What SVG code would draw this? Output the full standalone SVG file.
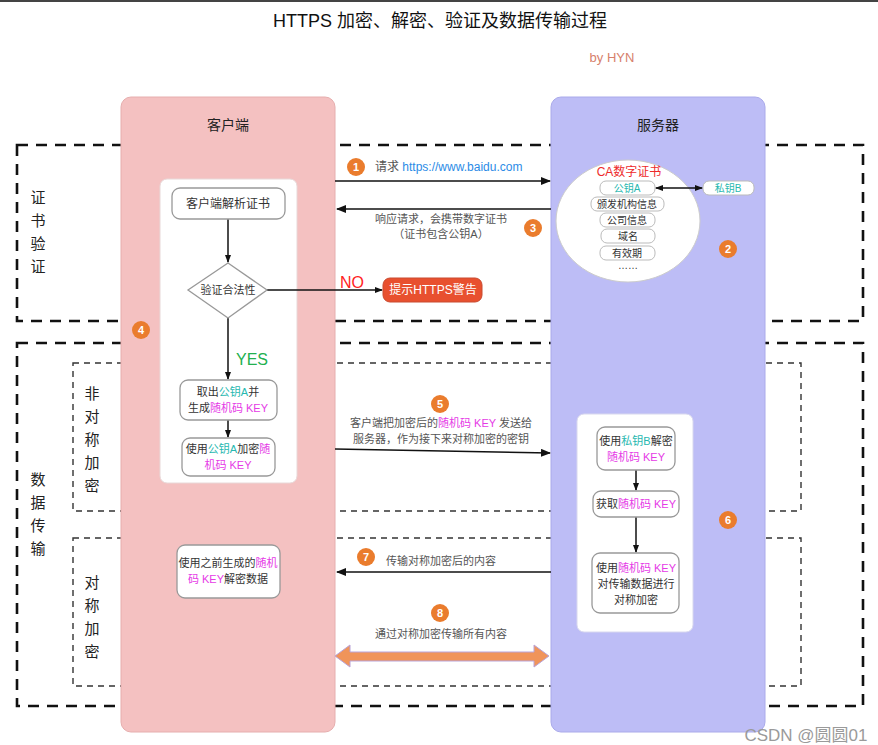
<svg xmlns="http://www.w3.org/2000/svg" width="878" height="745" viewBox="0 0 878 745">
<style>
text{font-family:"Liberation Sans","Noto Sans CJK SC",sans-serif;}
.t{font-size:11px;fill:#333;text-anchor:middle;}
.g{font-size:11px;fill:#555;text-anchor:middle;}
.side{font-size:15px;fill:#222;text-anchor:middle;}
.teal{fill:#27b8b0;}
.mag{fill:#e53ae6;}
.node{fill:#fff;stroke:#999;stroke-width:1.3;}
.pill{fill:#fff;stroke:#bbb;stroke-width:1;}
.bigdash{fill:none;stroke:#111;stroke-width:2.6;stroke-dasharray:11 8;}
.smalldash{fill:none;stroke:#333;stroke-width:1.4;stroke-dasharray:6 5;}
.num circle{fill:#ea7c2d;}
.num text{font-size:11px;fill:#fff;text-anchor:middle;font-weight:bold;}
.ln{stroke:#111;stroke-width:1.5;fill:none;}
</style>
<defs>
<marker id="ah" markerUnits="userSpaceOnUse" markerWidth="10" markerHeight="8" refX="9" refY="4" orient="auto">
<path d="M0,0 L10,4 L0,8 Z" fill="#111"/>
</marker>
<marker id="as" markerUnits="userSpaceOnUse" markerWidth="8" markerHeight="6" refX="7" refY="3" orient="auto-start-reverse">
<path d="M0,0 L8,3 L0,6 Z" fill="#111"/>
</marker>
</defs>
<rect x="0" y="0" width="878" height="745" fill="#fff"/>
<rect x="0" y="0" width="878" height="2" fill="#444"/>
<text x="440" y="27" style="font-size:18px;fill:#111;text-anchor:middle;">HTTPS 加密、解密、验证及数据传输过程</text>
<text x="612" y="62" style="font-size:13px;fill:#d77f6c;text-anchor:middle;">by HYN</text>

<g id="sections">
<rect class="bigdash" x="17" y="145" width="846" height="176"/>
<rect class="bigdash" x="17" y="343" width="846" height="363"/>
<rect class="smalldash" x="73" y="363" width="728" height="148"/>
<rect class="smalldash" x="73" y="538" width="728" height="148"/>
<text class="side" x="38" y="203">证</text>
<text class="side" x="38" y="226">书</text>
<text class="side" x="38" y="249">验</text>
<text class="side" x="38" y="272">证</text>
<text class="side" x="38" y="485">数</text>
<text class="side" x="38" y="508">据</text>
<text class="side" x="38" y="531">传</text>
<text class="side" x="38" y="554">输</text>
<text class="side" x="92" y="399">非</text>
<text class="side" x="92" y="422">对</text>
<text class="side" x="92" y="445">称</text>
<text class="side" x="92" y="468">加</text>
<text class="side" x="92" y="491">密</text>
<text class="side" x="92" y="588">对</text>
<text class="side" x="92" y="611">称</text>
<text class="side" x="92" y="634">加</text>
<text class="side" x="92" y="657">密</text>
</g>

<g id="client-lane">
<rect x="121" y="97" width="214" height="635" rx="10" fill="#f4c1c1" stroke="#e6aeae" stroke-width="1"/>
<text x="228" y="130" style="font-size:14px;fill:#222;text-anchor:middle;">客户端</text>
<rect x="160" y="179" width="137" height="304" rx="7" fill="#fff" stroke="#e8d8d8" stroke-width="1"/>
</g>
<g id="server-lane">
<rect x="551" y="97" width="214" height="635" rx="10" fill="#bdbdf6" stroke="#aaaaea" stroke-width="1"/>
<text x="658" y="130" style="font-size:14px;fill:#222;text-anchor:middle;">服务器</text>
<rect x="577" y="414" width="116" height="218" rx="7" fill="#fff" stroke="#d8d8ee" stroke-width="1"/>
</g>

<g id="ca-cert">
<ellipse cx="628" cy="221" rx="72" ry="61" fill="#fff" stroke="#ccc" stroke-width="1"/>
<text x="629" y="176" style="font-size:12px;fill:#ee2a2a;text-anchor:middle;">CA数字证书</text>
<rect class="pill" x="600" y="181" width="55" height="14" rx="6"/>
<text class="t teal" x="627" y="192" style="font-size:10px;">公钥A</text>
<rect class="pill" x="591" y="197" width="73" height="14" rx="6"/>
<text class="t" x="627" y="208" style="font-size:10px;">颁发机构信息</text>
<rect class="pill" x="600" y="213" width="55" height="14" rx="6"/>
<text class="t" x="627" y="224" style="font-size:10px;">公司信息</text>
<rect class="pill" x="601" y="229" width="54" height="14" rx="6"/>
<text class="t" x="628" y="240" style="font-size:10px;">域名</text>
<rect class="pill" x="600" y="246" width="55" height="14" rx="6"/>
<text class="t" x="627" y="257" style="font-size:10px;">有效期</text>
<text class="t" x="628" y="269" style="font-size:10px;">……</text>
</g>
<g id="private-key">
<rect class="pill" x="703" y="181" width="51" height="14" rx="6"/>
<text class="t teal" x="728" y="192" style="font-size:10px;">私钥B</text>
</g>

<g id="connectors">
<line class="ln" x1="335" y1="181" x2="550" y2="181" marker-end="url(#ah)"/>
<line class="ln" x1="551" y1="209" x2="337" y2="209" marker-end="url(#ah)"/>
<line class="ln" x1="656" y1="188" x2="702" y2="188" stroke-width="1.2" marker-start="url(#as)" marker-end="url(#as)"/>
<line class="ln" x1="228" y1="219" x2="228" y2="262" stroke-width="1.2" marker-end="url(#as)"/>
<line class="ln" x1="267" y1="290" x2="382" y2="290" stroke-width="1.2" marker-end="url(#as)"/>
<line class="ln" x1="228" y1="318" x2="228" y2="379" stroke-width="1.2" marker-end="url(#as)"/>
<line class="ln" x1="228" y1="420" x2="228" y2="437" stroke-width="1.2" marker-end="url(#as)"/>
<line class="ln" x1="335" y1="449" x2="550" y2="453" marker-end="url(#ah)"/>
<line class="ln" x1="636" y1="470" x2="636" y2="490" stroke-width="1.2" marker-end="url(#as)"/>
<line class="ln" x1="636" y1="517" x2="636" y2="552" stroke-width="1.2" marker-end="url(#as)"/>
<line class="ln" x1="551" y1="572" x2="337" y2="572" marker-end="url(#ah)"/>
<path d="M335,656 L350,645 L350,652 L534,652 L534,645 L549,656 L534,667 L534,661 L350,661 L350,667 Z" fill="#f0945a" stroke="#b9a3d8" stroke-width="1"/>
</g>

<g id="step1-label">
<g class="num"><circle cx="356" cy="167" r="9"/><text x="356" y="171">1</text></g>
<text x="375" y="171" style="font-size:12px;fill:#555;">请求 <tspan fill="#2b8be6">https://www.baidu.com</tspan></text>
</g>
<g id="step3-label">
<text class="g" x="441" y="223">响应请求，会携带数字证书</text>
<text class="g" x="441" y="238">（证书包含公钥A）</text>
<g class="num"><circle cx="533" cy="228" r="9"/><text x="533" y="232">3</text></g>
</g>

<g id="step2"><g class="num"><circle cx="728" cy="249" r="9"/><text x="728" y="253">2</text></g></g>
<g id="step4"><g class="num"><circle cx="141" cy="330" r="9"/><text x="141" y="334">4</text></g></g>

<g id="parse-cert">
<rect class="node" x="172" y="188" width="113" height="31" rx="8"/>
<text class="t" x="228" y="208" style="font-size:12px;">客户端解析证书</text>
</g>
<g id="verify">
<path d="M228,263 L267,290 L228,318 L188,290 Z" fill="#fff" stroke="#999" stroke-width="1.3"/>
<text class="t" x="228" y="294">验证合法性</text>
</g>
<text x="352" y="288" style="font-size:16px;fill:#f22;text-anchor:middle;">NO</text>
<g id="warn">
<rect x="383" y="278" width="99" height="24" rx="7" fill="#e8502f" stroke="#c94a30" stroke-width="1"/>
<text x="433" y="294" style="font-size:12px;fill:#fff;text-anchor:middle;">提示HTTPS警告</text>
</g>
<text x="252" y="365" style="font-size:16px;fill:#22b04f;text-anchor:middle;">YES</text>
<g id="take-key">
<rect class="node" x="180" y="380" width="97" height="40" rx="8"/>
<text class="t" x="228" y="396">取出<tspan class="teal">公钥A</tspan>并</text>
<text class="t" x="228" y="412">生成<tspan class="mag">随机码 KEY</tspan></text>
</g>
<g id="encrypt-key">
<rect class="node" x="182" y="438" width="93" height="38" rx="8"/>
<text class="t" x="228" y="453">使用<tspan class="teal">公钥A</tspan>加密<tspan class="mag">随</tspan></text>
<text class="t mag" x="228" y="469">机码 KEY</text>
</g>

<g id="step5-label">
<g class="num"><circle cx="440" cy="404" r="9"/><text x="440" y="408">5</text></g>
<text class="g" x="441" y="427">客户端把加密后的<tspan class="mag">随机码 KEY</tspan> 发送给</text>
<text class="g" x="441" y="443">服务器，作为接下来对称加密的密钥</text>
</g>

<g id="decrypt-key">
<rect class="node" x="597" y="427" width="78" height="43" rx="8"/>
<text class="t" x="636" y="445">使用<tspan class="teal">私钥B</tspan>解密</text>
<text class="t mag" x="636" y="461">随机码 KEY</text>
</g>
<g id="get-key">
<rect class="node" x="593" y="491" width="86" height="26" rx="8"/>
<text class="t" x="636" y="508">获取<tspan class="mag">随机码 KEY</tspan></text>
</g>
<g id="sym-encrypt">
<rect class="node" x="592" y="553" width="87" height="60" rx="8"/>
<text class="t" x="636" y="572">使用<tspan class="mag">随机码 KEY</tspan></text>
<text class="t" x="636" y="588">对传输数据进行</text>
<text class="t" x="636" y="604">对称加密</text>
</g>
<g id="step6"><g class="num"><circle cx="728" cy="520" r="9"/><text x="728" y="524">6</text></g></g>

<g id="decrypt-data">
<rect class="node" x="177" y="545" width="103" height="53" rx="8"/>
<text class="t" x="228" y="567">使用之前生成的<tspan class="mag">随机</tspan></text>
<text class="t" x="228" y="583"><tspan class="mag">码 KEY</tspan>解密数据</text>
</g>

<g id="step7-label">
<g class="num"><circle cx="366" cy="557" r="9"/><text x="366" y="561">7</text></g>
<text class="g" x="441" y="565">传输对称加密后的内容</text>
</g>
<g id="step8-label">
<g class="num"><circle cx="440" cy="613" r="9"/><text x="440" y="617">8</text></g>
<text class="g" x="441" y="638">通过对称加密传输所有内容</text>
</g>

<text x="806" y="741" style="font-size:17px;fill:#9a9a9a;text-anchor:middle;">CSDN @圆圆01</text>
</svg>
